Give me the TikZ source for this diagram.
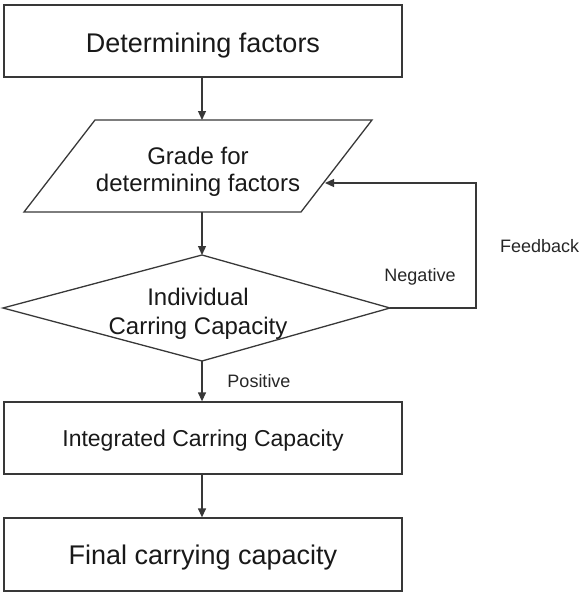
\documentclass[tikz,border=0pt]{standalone}
\usepackage{fontspec}
\setmainfont{Liberation Sans}
\usetikzlibrary{arrows.meta}
\begin{document}
\begin{tikzpicture}[x=1pt,y=-1pt,
  line/.style={draw=black!78, line width=1.3pt},
  arr/.style={line, -{Triangle[length=9pt,width=8pt]}},
  lbl/.style={font=\fontsize{18}{21}\selectfont, text=black!85, inner sep=0pt},
  flowbox/.style={line, rectangle, minimum width=398pt, inner sep=0pt, text=black!90},
  big/.style={font=\fontsize{27}{32}\selectfont}]
\useasboundingbox (0,0) rectangle (585,592);

% top box
\node[flowbox, big, minimum height=72pt] (box1) at (203,41) {\raisebox{-5pt}[\height][\depth]{Determining factors}};

% parallelogram
\coordinate (pTL) at (95,120);
\coordinate (pTR) at (372,120);
\coordinate (pBR) at (301,212);
\coordinate (pBL) at (24,212);
\draw[line, line join=miter] (pTL) -- (pTR) -- (pBR) -- (pBL) -- cycle;
\node[align=center, text=black!90, inner sep=0pt, font=\fontsize{24}{27}\selectfont] (grade) at (198,172) {Grade for\\determining factors};
\coordinate (pIn) at (202,120);
\coordinate (pOut) at (202,212);
\coordinate (fbTip) at (325,183);

% diamond
\coordinate (dT) at (202,255);
\coordinate (dR) at (390,308);
\coordinate (dB) at (202,361);
\coordinate (dL) at (3,308);
\draw[line, line join=miter] (dT) -- (dR) -- (dB) -- (dL) -- cycle;
\node[align=center, text=black!90, inner sep=0pt, font=\fontsize{24}{29}\selectfont] (ind) at (198,314) {Individual\\Carring Capacity};

% lower boxes
\node[flowbox, font=\fontsize{23}{28}\selectfont, minimum height=72pt] (box3) at (203,438) {\raisebox{-3pt}[\height][\depth]{Integrated Carring Capacity}};
\node[flowbox, big, minimum height=73pt] (box4) at (203,554.5) {\raisebox{-3pt}[\height][\depth]{Final carrying capacity}};

% connectors
\draw[arr] (box1.south -| pIn) -- (pIn);
\draw[arr] (pOut) -- (dT);
\draw[arr] (dB) -- (box3.north -| dB);
\draw[arr] (box3.south -| dB) -- (box4.north -| dB);
\coordinate (fbC) at (476,183);
\draw[arr] (dR) -| (fbC) -- (fbTip);

% labels
\node[lbl] (neg) at (420,277) {Negative};
\node[lbl] (pos) at (259,381) {Positive};
\node[lbl, anchor=west] (fb) at (500,246) {Feedback};
\end{tikzpicture}
\end{document}
